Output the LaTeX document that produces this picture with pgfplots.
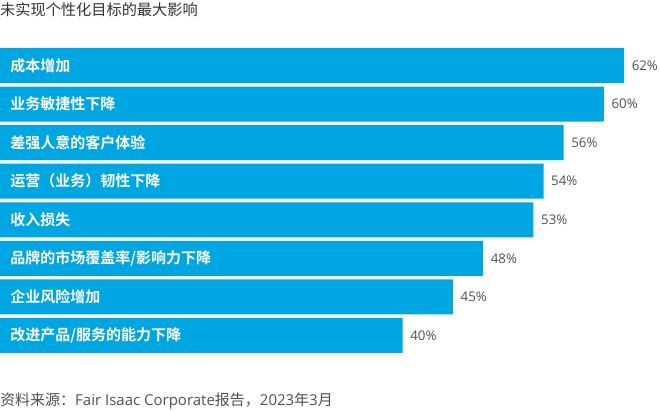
\documentclass[border=0pt]{standalone}
\usepackage{fontspec}
\usepackage{pgfplots}
\pgfplotsset{compat=1.18}
\setmainfont{Open Sans}
\newfontfamily\cjk{Noto Sans CJK SC}
\newfontfamily\cjkb{Noto Sans CJK SC Bold}
\definecolor{barblue}{RGB}{0,166,226}
\definecolor{txtgrey}{RGB}{80,80,80}
\begin{document}
\begin{tikzpicture}
\begin{axis}[
  scale only axis, width=660pt, height=411pt,
  xmin=0, xmax=65.57, ymin=0, ymax=411, y dir=reverse,
  axis lines=none, clip=false,
  xbar, bar width=35pt, bar shift=0pt,
  /pgf/number format/assume math mode=true,
  nodes near coords={\pgfmathprintnumber{\pgfplotspointmeta}\%},
  nodes near coords style={anchor=west, inner sep=0pt, xshift=7.5pt, font=\fontsize{13.3}{15}\selectfont, text=txtgrey},
]
\path (axis cs:0,0) rectangle (axis cs:65.57,411);
\addplot[fill=barblue, draw=none] coordinates {
 (62,65.5) (60,104.1) (56,142.6) (54,181.2) (53,219.8) (48,258.4) (45,296.9) (40,335.5)};
\node[anchor=west, inner sep=0pt, text=white, font=\cjkb\fontsize{15}{16}\selectfont] at (axis cs:1,65.5) {成本增加};
\node[anchor=west, inner sep=0pt, text=white, font=\cjkb\fontsize{15}{16}\selectfont] at (axis cs:1,104.1) {业务敏捷性下降};
\node[anchor=west, inner sep=0pt, text=white, font=\cjkb\fontsize{15}{16}\selectfont] at (axis cs:1,142.6) {差强人意的客户体验};
\node[anchor=west, inner sep=0pt, text=white, font=\cjkb\fontsize{15}{16}\selectfont] at (axis cs:1,181.2) {运营（业务）韧性下降};
\node[anchor=west, inner sep=0pt, text=white, font=\cjkb\fontsize{15}{16}\selectfont] at (axis cs:1,219.8) {收入损失};
\node[anchor=west, inner sep=0pt, text=white, font=\cjkb\fontsize{15}{16}\selectfont] at (axis cs:1,258.4) {品牌的市场覆盖率/影响力下降};
\node[anchor=west, inner sep=0pt, text=white, font=\cjkb\fontsize{15}{16}\selectfont] at (axis cs:1,296.9) {企业风险增加};
\node[anchor=west, inner sep=0pt, text=white, font=\cjkb\fontsize{15}{16}\selectfont] at (axis cs:1,335.5) {改进产品/服务的能力下降};
\node[anchor=west, inner sep=0pt, text=black!80, font=\cjk\fontsize{15.2}{16}\selectfont] at (axis cs:0,10) {未实现个性化目标的最大影响};
\node[anchor=west, inner sep=0pt, text=txtgrey, font=\fontsize{15}{16}\selectfont] at (axis cs:0,401) {{\cjk 资料来源：}Fair Isaac Corporate{\cjk 报告，}2023{\cjk 年}3{\cjk 月}};
\end{axis}
\end{tikzpicture}
\end{document}
